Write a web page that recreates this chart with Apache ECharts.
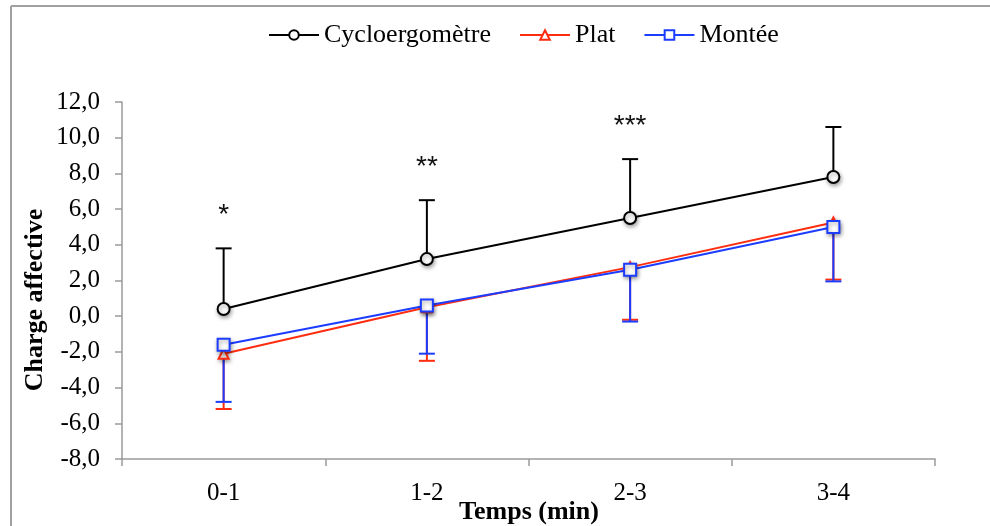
<!DOCTYPE html>
<html>
<head>
<meta charset="utf-8">
<script src="https://cdn.jsdelivr.net/npm/echarts@6/dist/echarts.min.js"></script>
<style>
  html, body { margin: 0; padding: 0; background: #fff; }
  #chart { width: 990px; height: 526px; }
</style>
</head>
<body>
<div id="chart"></div>
<script>
// Time intervals (minutes)
const categories = ['0-1', '1-2', '2-3', '3-4'];

// Mean affective load per condition
const cycloMean = [0.4, 3.2, 5.5, 7.8];
const platMean = [-2.1, 0.5, 2.75, 5.25];
const monteeMean = [-1.6, 0.6, 2.6, 5.0];

// Standard deviations (drawn upward for the ergometer, downward for the others)
const cycloSD = [3.4, 3.3, 3.3, 2.8];
const platSD = [3.1, 3.0, 2.95, 3.2];
const monteeSD = [3.2, 2.7, 2.9, 3.05];

// Significance markers above the ergometer error bars
const stars = ['*', '**', '***', ''];

const BLACK = '#000000';
const RED = '#FF2D10';
const BLUE = '#1C3CFF';
const SERIF = '"Liberation Serif", "Times New Roman", serif';

const markerShadow = {
  shadowColor: 'rgba(0,0,0,0.35)',
  shadowBlur: 4,
  shadowOffsetX: 1,
  shadowOffsetY: 2
};

function errorBars(means, sds, dir, color, labels) {
  return {
    type: 'custom',
    silent: true,
    z: 1,
    data: means.map((m, i) => [i, m, sds[i]]),
    encode: { x: 0, y: 1 },
    renderItem: function (params, api) {
      const idx = api.value(0);
      const m = api.value(1);
      const sd = api.value(2);
      const p0 = api.coord([idx, m]);
      const p1 = api.coord([idx, m + dir * sd]);
      const hw = 8;
      const children = [
        { type: 'line', shape: { x1: p0[0], y1: p0[1], x2: p1[0], y2: p1[1] },
          style: { stroke: color, lineWidth: 2 } },
        { type: 'line', shape: { x1: p1[0] - hw, y1: p1[1], x2: p1[0] + hw, y2: p1[1] },
          style: { stroke: color, lineWidth: 2 } }
      ];
      if (labels && labels[params.dataIndex]) {
        children.push({
          type: 'text',
          x: p1[0],
          y: p1[1] - 33,
          style: {
            text: labels[params.dataIndex],
            fill: '#111',
            font: '28px "Liberation Sans", Arial, sans-serif',
            align: 'center',
            verticalAlign: 'middle'
          }
        });
      }
      return { type: 'group', children: children };
    }
  };
}

function lineSeries(name, data, color, symbol, size) {
  return {
    name: name,
    type: 'line',
    data: data,
    z: 3,
    symbol: symbol,
    symbolSize: size,
    showAllSymbol: true,
    lineStyle: { color: color, width: 2 },
    itemStyle: Object.assign({ color: '#fff', borderColor: color, borderWidth: 2 }, markerShadow),
    emphasis: { disabled: true }
  };
}

const chart = echarts.init(document.getElementById('chart'), null, { renderer: 'canvas' });

chart.setOption({
  animation: false,
  backgroundColor: '#fff',
  legend: {
    top: 17,
    left: 263,
    itemGap: 28,
    itemWidth: 50,
    itemHeight: 12,
    textStyle: { fontFamily: SERIF, fontSize: 26, color: '#000' },
    data: ['Cycloergomètre', 'Plat', 'Montée']
  },
  grid: { left: 122, right: 55, top: 102, bottom: 67, outerBoundsMode: 'none', containLabel: false },
  xAxis: {
    type: 'category',
    data: categories,
    boundaryGap: true,
    axisLine: { onZero: false, lineStyle: { color: '#9a9a9a', width: 1.5 } },
    axisTick: { show: true, alignWithLabel: false, length: 7, lineStyle: { color: '#9a9a9a', width: 1.5 } },
    axisLabel: { fontFamily: SERIF, fontSize: 25, color: '#000', margin: 22 },
    splitLine: { show: false }
  },
  yAxis: {
    type: 'value',
    min: -8,
    max: 12,
    interval: 2,
    axisLine: { show: true, lineStyle: { color: '#9a9a9a', width: 1.5 } },
    axisTick: { show: true, length: 7, lineStyle: { color: '#9a9a9a', width: 1.5 } },
    axisLabel: {
      fontFamily: SERIF, fontSize: 25, color: '#000', margin: 22,
      formatter: v => v.toFixed(1).replace('.', ',')
    },
    splitLine: { show: false }
  },
  graphic: [
    // frame along top and left edges
    { type: 'line', shape: { x1: 11, y1: 6, x2: 990, y2: 6 }, style: { stroke: '#a0a0a0', lineWidth: 2 } },
    { type: 'line', shape: { x1: 11, y1: 6, x2: 11, y2: 526 }, style: { stroke: '#a0a0a0', lineWidth: 2 } },
    // axis titles
    {
      type: 'text',
      x: 35, y: 300,
      rotation: Math.PI / 2,
      style: {
        text: 'Charge affective',
        font: 'bold 26px "Liberation Serif", "Times New Roman", serif',
        fill: '#000',
        align: 'center',
        verticalAlign: 'middle'
      }
    },
    {
      type: 'text',
      x: 529, y: 512,
      style: {
        text: 'Temps (min)',
        font: 'bold 26px "Liberation Serif", "Times New Roman", serif',
        fill: '#000',
        align: 'center',
        verticalAlign: 'middle'
      }
    }
  ],
  series: [
    errorBars(cycloMean, cycloSD, 1, BLACK, stars),
    errorBars(platMean, platSD, -1, RED, null),
    errorBars(monteeMean, monteeSD, -1, BLUE, null),
    lineSeries('Cycloergomètre', cycloMean, BLACK, 'circle', 12),
    lineSeries('Plat', platMean, RED, 'triangle', 10),
    lineSeries('Montée', monteeMean, BLUE, 'rect', 12)
  ]
});
</script>
</body>
</html>
